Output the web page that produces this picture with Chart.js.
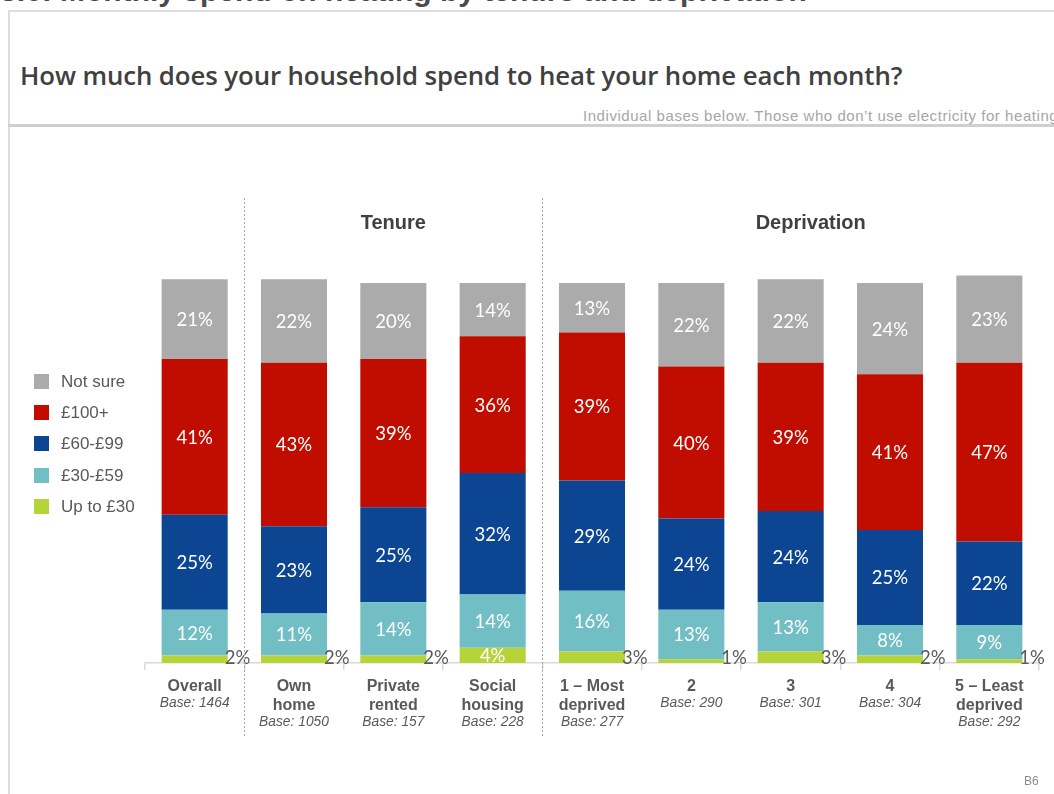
<!DOCTYPE html>
<html>
<head>
<meta charset="utf-8">
<script src="https://cdn.jsdelivr.net/npm/chart.js@4/dist/chart.umd.min.js"></script>
<style>
  html, body { margin: 0; padding: 0; background: #fff; }
  body { width: 1054px; height: 794px; position: relative; overflow: hidden; font-family: "Liberation Sans", Arial, sans-serif; }
  #wrap { position: absolute; left: 0; top: 0; width: 1054px; height: 794px; }
  .frame-top { position: absolute; left: 8px; top: 10px; right: 0; height: 2px; background: #dcdcdc; }
  .frame-left { position: absolute; left: 8px; top: 10px; bottom: 0; width: 2px; background: #dcdcdc; }
  .rule { position: absolute; left: 8px; top: 124px; right: 0; height: 3px; background: #cfcfcf; }
  .slide-head { position: absolute; left: 0px; top: -25px; font: bold 30px "Liberation Sans", Arial, sans-serif; color: #4a4a4a; white-space: nowrap; line-height: 32px; }
  .question { position: absolute; left: 20px; top: 57px; font: 600 25.8px "Open Sans", sans-serif; color: #404040; white-space: nowrap; letter-spacing: -0.1px; }
  .note { position: absolute; left: 583px; top: 107px; font: 15px "Liberation Sans", Arial, sans-serif; color: #a6a6a6; white-space: nowrap; letter-spacing: 0.55px; }
  .page-ref { position: absolute; left: 1024px; top: 774px; font: 12px "Liberation Sans", Arial, sans-serif; color: #8c8c8c; }
  #legend { position: absolute; left: 34px; top: 372px; }
  #legend .item { height: 31.2px; display: flex; align-items: flex-start; }
  #legend .sw { width: 15px; height: 15px; margin-top: 2px; margin-right: 12px; }
  #legend .tx { font: 17px "Liberation Sans", Arial, sans-serif; color: #595959; line-height: 19px; }
</style>
</head>
<body>
<div class="frame-top"></div>
<div class="frame-left"></div>
<div class="slide-head">3.6: Monthly spend on heating by tenure and deprivation</div>
<div class="question">How much does your household spend to heat your home each month?</div>
<div class="note">Individual bases below. Those who don’t use electricity for heating</div>
<div class="rule"></div>
<div id="wrap"><canvas id="c" width="1054" height="794"></canvas></div>
<div id="legend"></div>
<div class="page-ref">B6</div>
<script>
// Categories and their two-part labels (bold name lines + italic base)
const categories = ['Overall', 'Own home', 'Private rented', 'Social housing',
  '1 – Most deprived', '2', '3', '4', '5 – Least deprived'];
const nameLines = [['Overall'], ['Own', 'home'], ['Private', 'rented'], ['Social', 'housing'],
  ['1 – Most', 'deprived'], ['2'], ['3'], ['4'], ['5 – Least', 'deprived']];
const bases = [1464, 1050, 157, 228, 277, 290, 301, 304, 292];

// Share of households (%) in each spend band, bottom to top of the stack
const upTo30   = [2, 2, 2, 4, 3, 1, 3, 2, 1];
const from30   = [12, 11, 14, 14, 16, 13, 13, 8, 9];
const from60   = [25, 23, 25, 32, 29, 24, 24, 25, 22];
const over100  = [41, 43, 39, 36, 39, 40, 39, 41, 47];
const notSure  = [21, 22, 20, 14, 13, 22, 22, 24, 23];

const bandNames  = ['Up to £30', '£30-£59', '£60-£99', '£100+', 'Not sure'];
const bandColors = ['#b7d33a', '#72bec5', '#0c4693', '#c00d00', '#ababab'];

// Column groups: header text, first and last category index
const groupNames = ['Tenure', 'Deprivation'];
const groupSpans = [[1, 3], [4, 8]];

const bandValues = [upTo30, from30, from60, over100, notSure];

// Legend, listed top band first
const legend = document.getElementById('legend');
for (let i = bandNames.length - 1; i >= 0; i--) {
  const row = document.createElement('div');
  row.className = 'item';
  row.innerHTML = '<span class="sw" style="background:' + bandColors[i] + '"></span><span class="tx">' + bandNames[i] + '</span>';
  legend.appendChild(row);
}

// Percentage labels: white inside segments, grey beside the bar for thin ones
const valueLabels = {
  id: 'valueLabels',
  afterDatasetsDraw(chart) {
    const ctx = chart.ctx;
    ctx.save();
    ctx.font = '18.5px Lato, "Open Sans", sans-serif';
    chart.data.datasets.forEach((ds, di) => {
      const meta = chart.getDatasetMeta(di);
      meta.data.forEach((bar, i) => {
        const v = ds.data[i];
        const top = Math.min(bar.y, bar.base), bottom = Math.max(bar.y, bar.base);
        const txt = v + '%';
        if (v < 4) {
          ctx.fillStyle = '#595959';
          ctx.textAlign = 'left';
          ctx.textBaseline = 'alphabetic';
          ctx.fillText(txt, bar.x + bar.width / 2 - 3, bottom + 1);
        } else {
          ctx.fillStyle = '#ffffff';
          ctx.textAlign = 'center';
          ctx.textBaseline = 'middle';
          ctx.fillText(txt, bar.x, (top + bottom) / 2 + 1);
        }
      });
    });
    ctx.restore();
  }
};

// Category names, bases, group headers and dotted group dividers
const decorations = {
  id: 'decorations',
  afterDraw(chart) {
    const ctx = chart.ctx;
    const x = chart.scales.x;
    const axisY = chart.chartArea.bottom;
    ctx.save();
    // dividers between groups
    ctx.strokeStyle = '#a8a8a8';
    ctx.lineWidth = 1;
    ctx.setLineDash([2, 2]);
    groupSpans.forEach(span => {
      const px = Math.round(x.getPixelForValue(span[0] - 0.5)) + 0.5;
      ctx.beginPath();
      ctx.moveTo(px, 198);
      ctx.lineTo(px, 736);
      ctx.stroke();
    });
    ctx.setLineDash([]);
    // group headers
    ctx.fillStyle = '#404040';
    ctx.font = 'bold 20px "Liberation Sans", Arial, sans-serif';
    ctx.textAlign = 'center';
    ctx.textBaseline = 'middle';
    groupNames.forEach((g, gi) => {
      const [a, b] = groupSpans[gi];
      const cx = (x.getPixelForValue(a) + x.getPixelForValue(b)) / 2 + (gi === 1 ? 20 : 0);
      ctx.fillText(g, cx, 223);
    });
    // category labels
    categories.forEach((c, i) => {
      const cx = x.getPixelForValue(i);
      let y = axisY + 24;
      ctx.fillStyle = '#595959';
      ctx.font = 'bold 16px "Liberation Sans", Arial, sans-serif';
      nameLines[i].forEach(line => {
        ctx.fillText(line, cx, y);
        y += 19;
      });
      y -= 3;
      ctx.font = 'italic 13.8px "Liberation Sans", Arial, sans-serif';
      ctx.fillText('Base: ' + bases[i], cx, y);
    });
    ctx.restore();
  }
};

new Chart(document.getElementById('c'), {
  type: 'bar',
  data: {
    labels: categories,
    datasets: bandNames.map((name, i) => ({
      label: name,
      data: bandValues[i],
      backgroundColor: bandColors[i],
      borderWidth: 0,
      barPercentage: 0.665,
      categoryPercentage: 1
    }))
  },
  options: {
    responsive: false,
    animation: false,
    events: [],
    layout: { padding: { left: 145, right: 15, top: 245, bottom: 124 } },
    plugins: { legend: { display: false }, tooltip: { enabled: false }, title: { display: false } },
    scales: {
      x: {
        stacked: true,
        offset: true,
        border: { display: true, color: '#d9d9d9', width: 1.5 },
        grid: { display: true, offset: true, drawOnChartArea: false, drawTicks: true, tickLength: 7, color: '#d9d9d9', lineWidth: 1.5 },
        ticks: { display: false }
      },
      y: {
        stacked: true,
        display: false,
        min: 0,
        max: 110
      }
    }
  },
  plugins: [valueLabels, decorations]
});
</script>
</body>
</html>
